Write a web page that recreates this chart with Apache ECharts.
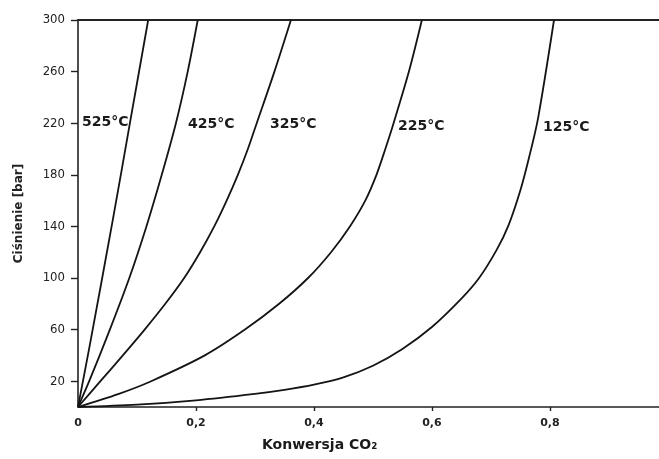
<!DOCTYPE html>
<html><head><meta charset="utf-8">
<script src="https://cdn.jsdelivr.net/npm/echarts@6/dist/echarts.min.js"></script>
<style>html,body{margin:0;padding:0;background:#fff}#c{width:659px;height:459px}</style>
</head><body><div id="c"></div>
<script>
// Data: [conversion CO2, pressure bar]
const curve525 = [[0,0],[0.02,48],[0.059,145],[0.088,220],[0.119,300]];
const curve425 = [[0,0],[0.019,20],[0.054,60],[0.087,100],[0.116,140],[0.142,180],[0.166,220],[0.186,260],[0.203,300]];
const curve325 = [[0,0],[0.038,20],[0.076,40],[0.113,60],[0.148,80],[0.180,100],[0.207,120],[0.231,140],[0.252,160],[0.271,180],[0.288,200],[0.303,220],[0.333,260],[0.361,300]];
const curve225 = [[0,0],[0.068,10],[0.124,20],[0.215,40],[0.283,60],[0.341,80],[0.390,100],[0.429,120],[0.461,140],[0.487,160],[0.506,180],[0.521,200],[0.535,220],[0.561,260],[0.583,300]];
const curve125 = [[0,0],[0.1,1.8],[0.2,5.2],[0.3,10.2],[0.35,13.3],[0.4,17.3],[0.45,23],[0.5,32],[0.55,45],[0.6,62],[0.65,84],[0.68,100],[0.71,122],[0.73,141],[0.75,168],[0.765,194],[0.78,224],[0.807,300]];
const seriesNames = ['525°C','425°C','325°C','225°C','125°C'];
const yTicks = [20,60,100,140,180,220,260,300];
const xTicks = [0,0.2,0.4,0.6,0.8];
const xTickMarks = [0.2,0.4,0.6,0.8];

const chart = echarts.init(document.getElementById('c'));
const lineStyle = {color:'#141414', width:1.8};
const allCurves = [curve525, curve425, curve325, curve225, curve125];
const labelPos = [[82,123],[188,125],[270,125],[398,127],[543,128]];
const boldFont = '"DejaVu Sans", "Liberation Sans", Arial, sans-serif';
chart.setOption({
  animation:false,
  backgroundColor:'#fff',
  grid:{left:78, right:0, top:20, bottom:52},
  xAxis:[{
    type:'value', min:0, max:0.985,
    axisLine:{show:true, lineStyle:{color:'#222', width:1.6}},
    axisTick:{show:true, length:4, customValues:xTickMarks, lineStyle:{color:'#222', width:1.4}},
    axisLabel:{customValues:xTicks, margin:11, color:'#222', fontSize:11, fontWeight:'bold',
      fontFamily:boldFont,
      formatter:v=>String(v).replace('.',',')},
    splitLine:{show:false}
  },{
    type:'value', min:0, max:0.985, position:'top',
    axisLine:{show:true, lineStyle:{color:'#222', width:1.8}},
    axisTick:{show:false}, axisLabel:{show:false}, splitLine:{show:false}
  }],
  yAxis:{
    type:'value', min:0, max:300,
    name:'Ciśnienie [bar]', nameLocation:'middle', nameGap:53,
    nameTextStyle:{fontSize:12, fontWeight:'bold', color:'#222', fontFamily:boldFont},
    axisLine:{show:true, lineStyle:{color:'#222', width:1.6}},
    axisTick:{show:true, length:7, customValues:yTicks, lineStyle:{color:'#222', width:1.4}},
    axisLabel:{customValues:yTicks, margin:13, color:'#222', fontSize:13,
      fontFamily:'DejaVu Sans Condensed, Liberation Sans Narrow, sans-serif'},
    splitLine:{show:false}
  },
  series: allCurves.map((d,i)=>({
    type:'line', name:seriesNames[i], data:d, smooth:0.3, showSymbol:false,
    lineStyle:lineStyle, clip:false
  })),
  graphic: seriesNames.map((n,i)=>({
    type:'text', left:labelPos[i][0], top:labelPos[i][1]-8,
    style:{text:n, fill:'#1a1a1a', font:'bold 14px ' + boldFont}
  })).concat([{
    type:'text', left:262, top:438,
    style:{text:'Konwersja CO₂', fill:'#1a1a1a', font:'bold 14px ' + boldFont}
  }])
});
</script></body></html>
